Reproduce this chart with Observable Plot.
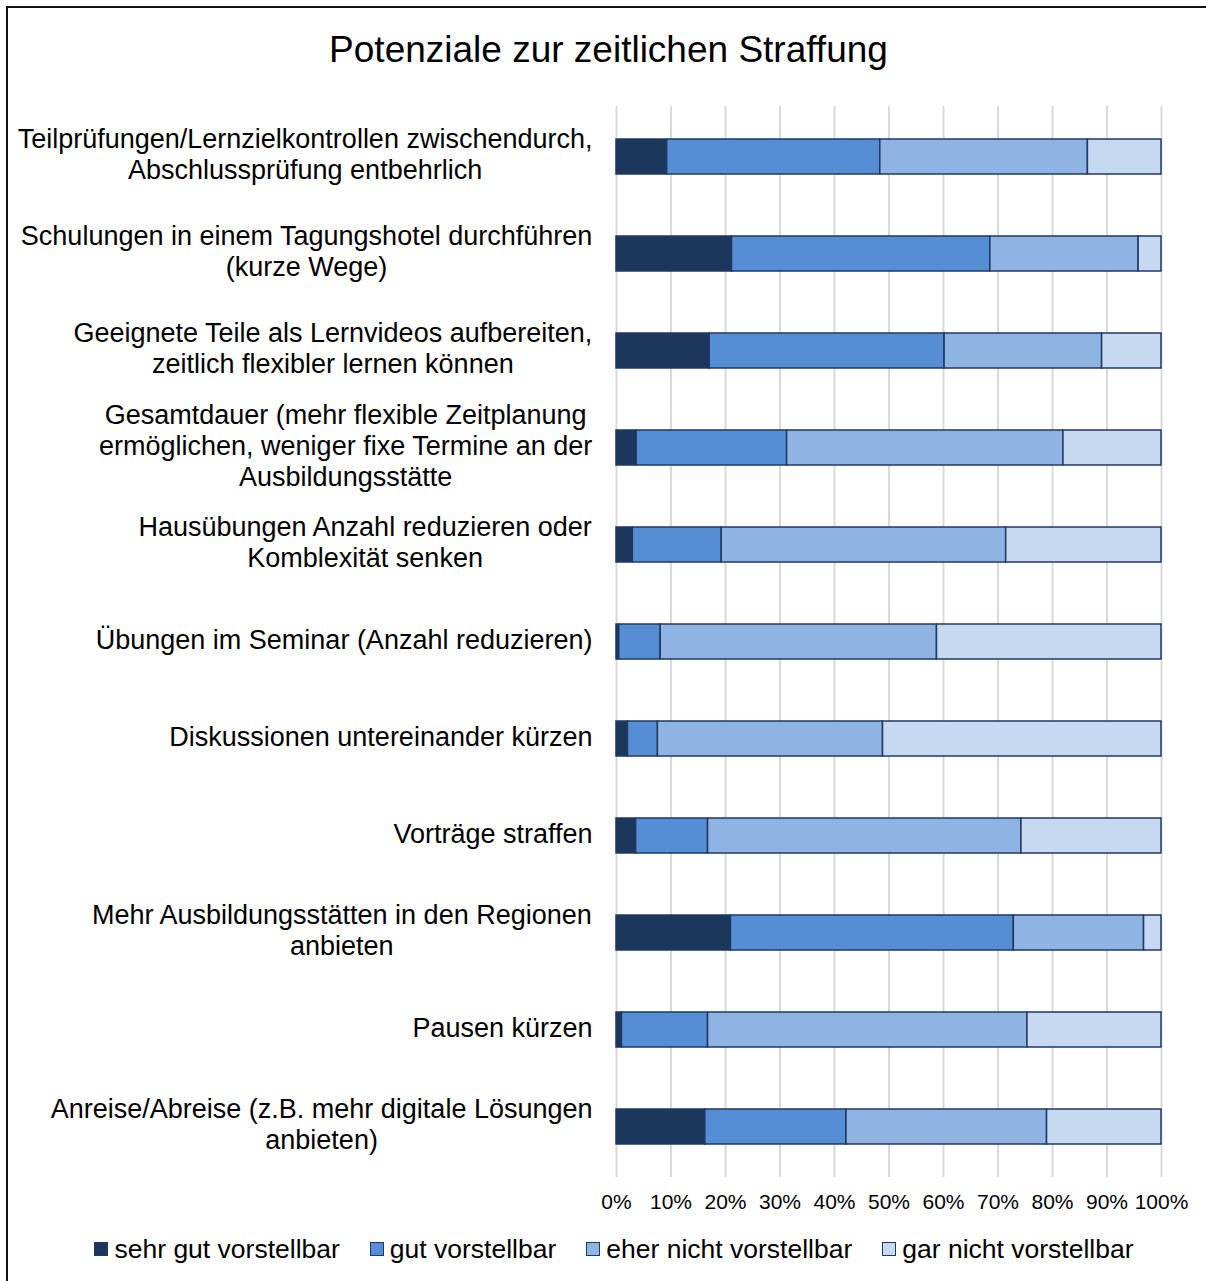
<!DOCTYPE html>
<html>
<head>
<meta charset="utf-8">
<script src="https://cdn.jsdelivr.net/npm/d3@7"></script>
<script src="https://cdn.jsdelivr.net/npm/@observablehq/plot@0.6"></script>
<style>
  html, body { margin: 0; padding: 0; background: #fff; overflow: hidden; }
  body { font-family: "Liberation Sans", Arial, sans-serif; color: #000; width: 1206px; height: 1281px; position: relative; }
  #frame { position: absolute; left: 6px; top: 6px; width: 1400px; height: 1400px; border-left: 2px solid #111; border-top: 2px solid #111; pointer-events: none; }
  #title { height: 96px; box-sizing: border-box; padding-top: 28px; line-height: 44px; font-size: 37px; text-align: center; padding-left: 11px; white-space: nowrap; }
  #chart svg { display: block; }
  #legend { margin-top: 3px; line-height: 30px; height: 30px; font-size: 26.5px; display: flex; justify-content: center; gap: 30px; padding-left: 22px; white-space: nowrap; }
  .item { display: flex; align-items: center; gap: 6px; }
  .sw { width: 12px; height: 12px; border: 1.5px solid #1f3864; }
</style>
</head>
<body>
<div id="frame"></div>
<div id="title">Potenziale zur zeitlichen Straffung</div>
<div id="chart"></div>
<div id="legend"></div>
<script>
const categories = [
  "Teilprüfungen/Lernzielkontrollen zwischendurch,\nAbschlussprüfung entbehrlich",
  "Schulungen in einem Tagungshotel durchführen\n(kurze Wege)",
  "Geeignete Teile als Lernvideos aufbereiten,\nzeitlich flexibler lernen können",
  "Gesamtdauer (mehr flexible Zeitplanung\nermöglichen, weniger fixe Termine an der\nAusbildungsstätte",
  "Hausübungen Anzahl reduzieren oder\nKomblexität senken",
  "Übungen im Seminar (Anzahl reduzieren)",
  "Diskussionen untereinander kürzen",
  "Vorträge straffen",
  "Mehr Ausbildungsstätten in den Regionen\nanbieten",
  "Pausen kürzen",
  "Anreise/Abreise (z.B. mehr digitale Lösungen\nanbieten)"
];
const seriesNames = ["sehr gut vorstellbar", "gut vorstellbar", "eher nicht vorstellbar", "gar nicht vorstellbar"];
const sehrGut   = [9.3, 21.2, 17.1, 3.7, 3.0, 0.5, 2.1, 3.6, 21.0, 1.0, 16.3];
const gut       = [39.1, 47.4, 43.1, 27.6, 16.3, 7.6, 5.5, 13.2, 51.9, 15.8, 25.9];
const eherNicht = [38.1, 27.2, 28.9, 50.7, 52.2, 50.7, 41.3, 57.5, 23.9, 58.6, 36.8];
const garNicht  = [13.5, 4.2, 10.9, 18.0, 28.5, 41.2, 51.1, 25.7, 3.2, 24.6, 21.0];
const xTicks = [0, 10, 20, 30, 40, 50, 60, 70, 80, 90, 100];
const colors = ["#1b375c", "#558ed5", "#8fb4e3", "#c6d9f1"];

const seriesValues = [sehrGut, gut, eherNicht, garNicht];
const data = [];
categories.forEach((c, i) => {
  seriesNames.forEach((s, j) => data.push({cat: c, series: s, value: seriesValues[j][i]}));
});

const labelSize = 27;
const ctx = document.createElement("canvas").getContext("2d");
ctx.font = labelSize + "px 'Liberation Sans', Arial, sans-serif";
function maxLineWidth(t) { return Math.max(...t.split("\n").map(l => ctx.measureText(l).width)); }

const labelMarks = categories.map(c => Plot.text([c], {
  y: d => d,
  text: d => d,
  frameAnchor: "left",
  textAnchor: "middle",
  dx: -(24 + maxLineWidth(c) / 2),
  dy: -3,
  lineHeight: 1.15,
  fontSize: labelSize,
  fill: "#000"
}));

const chart = Plot.plot({
  width: 1206,
  height: 1135,
  marginLeft: 616,
  marginRight: 45,
  marginTop: 10,
  marginBottom: 54,
  style: {fontFamily: "'Liberation Sans', Arial, sans-serif", background: "#fff", overflow: "visible"},
  x: {domain: [0, 100], ticks: xTicks, tickFormat: d => d + "%", label: null},
  y: {domain: categories, paddingInner: 0.64, paddingOuter: 0.32, axis: null},
  color: {domain: seriesNames, range: colors},
  marks: [
    Plot.gridX(xTicks, {stroke: "#d9d9d9", strokeOpacity: 1, strokeWidth: 2}),
    Plot.barX(data, Plot.stackX({x: "value", y: "cat", fill: "series", order: seriesNames, stroke: "#1f3864", strokeWidth: 1.5})),
    Plot.axisX(xTicks, {tickSize: 0, tickPadding: 17, fontSize: 21, tickFormat: d => d + "%", fill: "#000", label: null}),
    ...labelMarks
  ]
});
document.getElementById("chart").appendChild(chart);

const legend = document.getElementById("legend");
seriesNames.forEach((s, j) => {
  const item = document.createElement("div");
  item.className = "item";
  const sw = document.createElement("span");
  sw.className = "sw";
  sw.style.background = colors[j];
  const t = document.createElement("span");
  t.textContent = s;
  item.appendChild(sw);
  item.appendChild(t);
  legend.appendChild(item);
});
</script>
</body>
</html>
